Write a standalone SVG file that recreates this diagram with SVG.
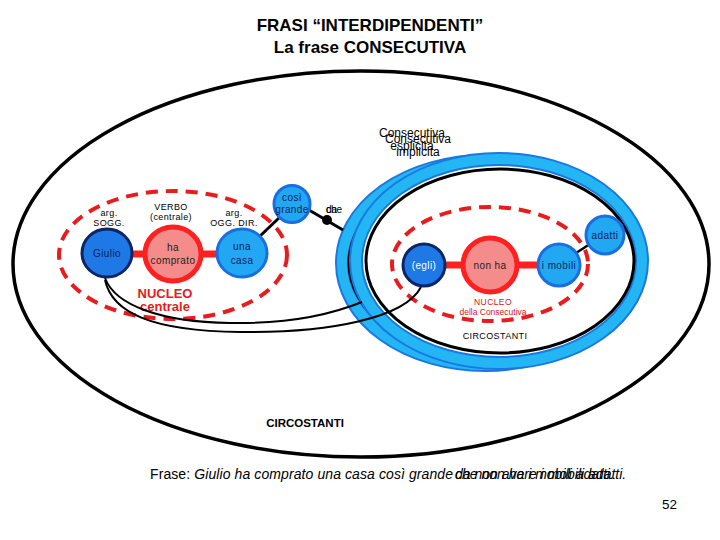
<svg xmlns="http://www.w3.org/2000/svg" width="720" height="540" viewBox="0 0 720 540">
<style>
text{font-family:"Liberation Sans",Arial,sans-serif;}
.t{font-size:17px;font-weight:bold;text-anchor:middle;fill:#000}
.sm{font-size:9px;text-anchor:middle;fill:#000;letter-spacing:0.4px}
.nd{font-size:10px;text-anchor:middle;letter-spacing:0.4px}
.dk{fill:#10205a}
.wh{fill:#fff}
.arg{fill:#1e78e6;stroke:#0b2566;stroke-width:3}
.verb{fill:#f48c8c;stroke:#ff2020;stroke-width:5}
.lb{fill:#22a8f2;stroke:#1a6fe0;stroke-width:3}
.rb{stroke:#ff2020;stroke-width:7}
.nuc{fill:none;stroke:#e81c1c;stroke-width:4;stroke-dasharray:12 8}
.ring1{fill:#fff;stroke:#1a78e0;stroke-width:14}
.ring2{fill:none;stroke:#24b6f4;stroke-width:10}
.blk{fill:none;stroke:#000;stroke-width:3}
.ln{fill:none;stroke:#000;stroke-width:2}
.lab{font-size:12px;text-anchor:middle;fill:#000}
</style>

<text class="t" x="370" y="31">FRASI “INTERDIPENDENTI”</text>
<text class="t" x="370" y="53">La frase CONSECUTIVA</text>

<g id="periodo">
<ellipse cx="361" cy="264" rx="348" ry="193" fill="#fff" stroke="#000" stroke-width="3.5"/>
<text x="305" y="427" font-size="11.5" font-weight="bold" text-anchor="middle">CIRCOSTANTI</text>
</g>

<g id="nucleo-centrale">
<ellipse class="nuc" cx="173" cy="255" rx="114" ry="64"/>
<text x="165" y="298" font-size="13" font-weight="bold" fill="#e02020" text-anchor="middle">NUCLEO</text>
<text x="165" y="311" font-size="13" font-weight="bold" fill="#e02020" text-anchor="middle">centrale</text>
</g>

<g id="consecutiva-esplicita">
<ellipse class="ring1" cx="485" cy="263" rx="143" ry="102"/>
<ellipse class="ring2" cx="485" cy="263" rx="143" ry="102"/>
<ellipse class="blk" cx="486" cy="263" rx="137" ry="94"/>
</g>
<g id="consecutiva-implicita">
<ellipse class="ring1" cx="499" cy="261" rx="143" ry="102"/>
<ellipse class="ring2" cx="499" cy="261" rx="143" ry="102"/>
<ellipse class="blk" cx="500" cy="261" rx="134" ry="92"/>
<text class="sm" x="495" y="339">CIRCOSTANTI</text>
</g>
<g id="label-consecutiva">
<text class="lab" x="412" y="137">Consecutiva</text>
<text class="lab" x="412" y="150">esplicita</text>
<text class="lab" x="418" y="143">Consecutiva</text>
<text class="lab" x="418" y="156">implicita</text>
</g>

<g id="nucleo-consecutiva">
<ellipse class="nuc" cx="490" cy="264" rx="98" ry="57"/>
<text x="493" y="305" font-size="8.5" fill="#d01818" text-anchor="middle" letter-spacing="0.4">NUCLEO</text>
<text x="493" y="315" font-size="8.5" fill="#d01818" text-anchor="middle">della Consecutiva</text>
</g>

<g id="connectors">
<line class="rb" x1="130" y1="254" x2="146" y2="254"/>
<line class="rb" x1="201" y1="254" x2="219" y2="254"/>
<line class="rb" x1="444" y1="265" x2="463" y2="265"/>
<line class="rb" x1="517" y1="265" x2="539" y2="265"/>
<line x1="258" y1="238" x2="281" y2="216" stroke="#000" stroke-width="3"/>
<line x1="309" y1="210" x2="343" y2="230" stroke="#000" stroke-width="3"/>
<circle cx="327" cy="220" r="5" fill="#000"/>
<line x1="576" y1="253" x2="590" y2="244" stroke="#000" stroke-width="2.5"/>
<path class="ln" d="M105,278 C115,305 160,322 230,323 C290,324 330,315 362,302"/>
<path class="ln" d="M105,280 C112,312 150,331 240,332 C330,333 405,318 421,287"/>
<text x="326" y="213" font-size="10" fill="#000">che</text>
<text x="326" y="213" font-size="10" fill="#000">da</text>
</g>

<g id="giulio">
<text class="sm" x="109" y="216">arg.</text>
<text class="sm" x="109" y="226">SOGG.</text>
<ellipse class="arg" cx="107" cy="253" rx="25" ry="24"/>
<text class="nd dk" x="107" y="257">Giulio</text>
</g>
<g id="ha-comprato">
<text class="sm" x="171" y="210">VERBO</text>
<text class="sm" x="171" y="220">(centrale)</text>
<ellipse class="verb" cx="173" cy="254" rx="28" ry="27"/>
<text class="nd" x="173" y="251" fill="#222">ha</text>
<text class="nd" x="173" y="264" fill="#222">comprato</text>
</g>
<g id="una-casa">
<text class="sm" x="234" y="216">arg.</text>
<text class="sm" x="234" y="226">OGG. DIR.</text>
<ellipse class="lb" cx="242" cy="253" rx="25" ry="24"/>
<text class="nd dk" x="242" y="250">una</text>
<text class="nd dk" x="242" y="264">casa</text>
</g>
<g id="cosi-grande">
<ellipse class="lb" cx="292" cy="204" rx="18" ry="18.5"/>
<text class="nd dk" x="292" y="201">così</text>
<text class="nd dk" x="292" y="213">grande</text>
</g>
<g id="egli">
<circle class="arg" cx="424" cy="265" r="21"/>
<text class="nd wh" x="424" y="269">(egli)</text>
</g>
<g id="non-ha">
<circle class="verb" cx="490" cy="265" r="27"/>
<text class="nd" x="490" y="269" fill="#222">non ha</text>
</g>
<g id="i-mobili">
<circle class="lb" cx="559" cy="265" r="21"/>
<text class="nd" x="559" y="269" fill="#10205a">i mobili</text>
</g>
<g id="adatti">
<circle class="lb" cx="605" cy="235" r="19"/>
<text class="nd" x="605" y="239" fill="#10205a">adatti</text>
</g>

<g id="frase" font-size="14">
<text x="150" y="479" fill="#000" textLength="303" lengthAdjust="spacing">Frase: <tspan font-style="italic">Giulio ha comprato una casa così grande</tspan></text>
<text x="455" y="479" fill="#000" font-style="italic">che non ha i mobili adatti.</text>
<text x="455" y="479" fill="#000" font-style="italic">da non avere i mobili adatti.</text>
</g>
<text x="677" y="509" font-size="13.5" text-anchor="end" fill="#000">52</text>
</svg>
